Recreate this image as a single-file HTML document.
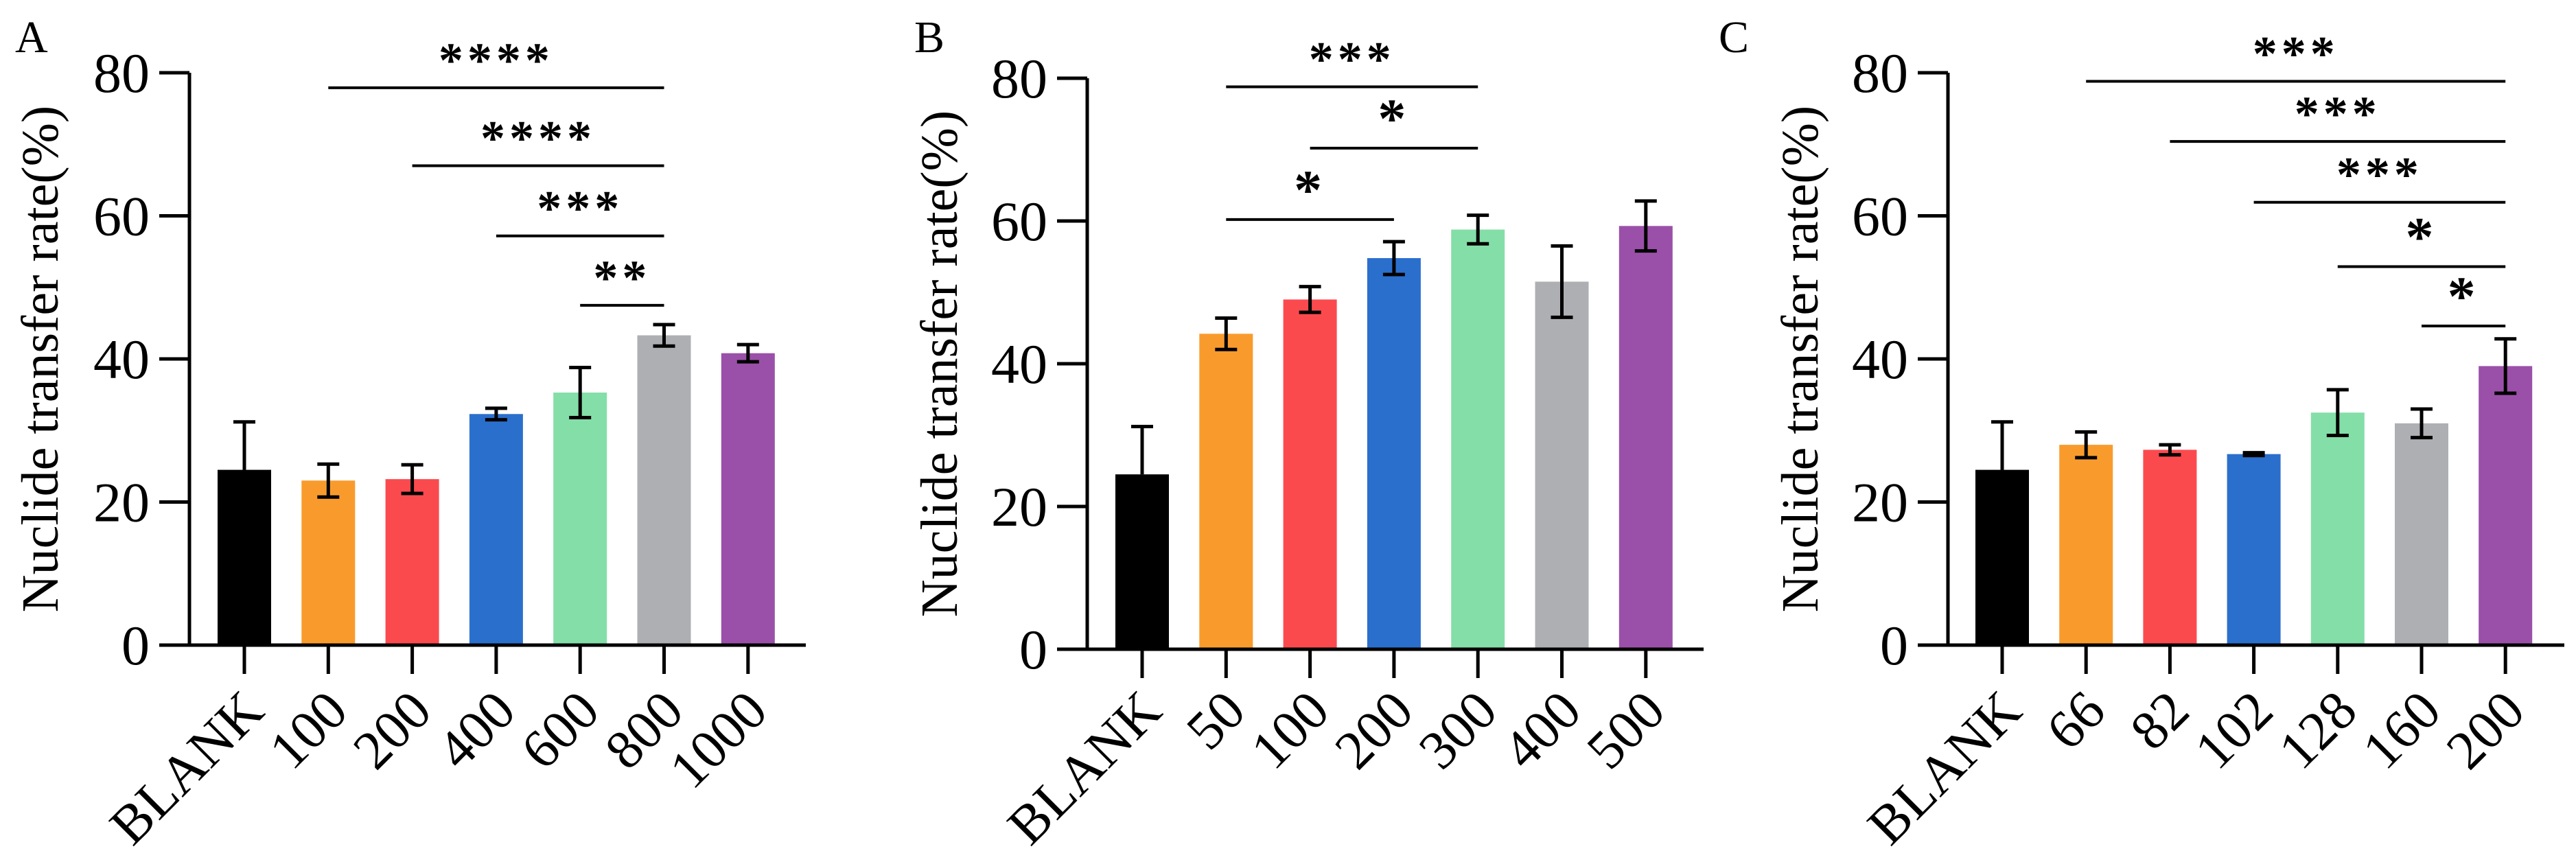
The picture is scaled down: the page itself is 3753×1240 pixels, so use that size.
<!DOCTYPE html>
<html><head><meta charset="utf-8"><style>
body{margin:0;background:#fff}
svg{display:block}
text{font-family:"Liberation Serif","Times New Roman","DejaVu Serif",serif;fill:#000}
</style></head><body>
<svg id="chart" width="3753" height="1240" viewBox="0 0 3753 1240" xmlns="http://www.w3.org/2000/svg"></svg>
<script>
const colors = ["#000000","#f99b2c","#fb4a4e","#2b6fcd","#84dea8","#adafb3","#9a50a8"];
const yTicks = [0,20,40,60,80];
const catsA = ["BLANK","100","200","400","600","800","1000"];
const valsA = [24.5,23.0,23.2,32.3,35.3,43.3,40.8];
const errsA = [6.7,2.3,2.0,0.8,3.5,1.5,1.2];
const sigA = [[1,5,77.9,"****"],[2,5,67.0,"****"],[3,5,57.2,"***"],[4,5,47.5,"**"]];
const catsB = ["BLANK","50","100","200","300","400","500"];
const valsB = [24.5,44.2,49.0,54.8,58.8,51.5,59.3];
const errsB = [6.7,2.2,1.8,2.3,2.0,5.0,3.5];
const sigB = [[1,4,78.8,"***"],[2,4,70.2,"*"],[1,3,60.2,"*"]];
const catsC = ["BLANK","66","82","102","128","160","200"];
const valsC = [24.5,28.0,27.3,26.7,32.5,31.0,39.0];
const errsC = [6.7,1.8,0.7,0.2,3.2,2.0,3.8];
const sigC = [[1,6,78.8,"***"],[2,6,70.4,"***"],[3,6,61.9,"***"],[4,6,52.9,"*"],[5,6,44.6,"*"]];

const SERIF='"Liberation Serif","Times New Roman","DejaVu Serif",serif';
const NS="http://www.w3.org/2000/svg";
const svg=document.getElementById('chart');
function mk(tag,attrs,parent,txt){const e=document.createElementNS(NS,tag);for(const k in attrs)e.setAttribute(k,attrs[k]);if(tag==='text'&&!attrs['font-family'])e.setAttribute('font-family',SERIF);if(txt!==undefined)e.textContent=txt;(parent||svg).appendChild(e);return e;}

function panel(cfg,cats,vals,errs,sigs){
  const g=mk('g',{});
  
  
  const y=v=>cfg.y0-(cfg.y0-cfg.y80)*v/80;
  const x=i=>cfg.x0+i*cfg.step;
  const lt=mk('text',{x:cfg.lx,y:76,'font-size':66},g,cfg.letter);
  
  
  cats.forEach((c,i)=>{
    const r=mk('rect',{x:x(i)-39,y:y(vals[i]),width:78,height:cfg.y0-y(vals[i]),fill:colors[i]},g);
    
    
    const eb=mk('g',{stroke:'#000','stroke-width':5,fill:'none'},g);
    
    
    const top=y(vals[i]+errs[i]), bot=i===0?y(vals[i]):y(vals[i]-errs[i]);
    mk('line',{x1:x(i),x2:x(i),y1:top,y2:bot},eb);
    mk('line',{x1:x(i)-16,x2:x(i)+16,y1:top,y2:top},eb);
    if(i!==0)mk('line',{x1:x(i)-16,x2:x(i)+16,y1:bot,y2:bot},eb);
    const tk=mk('line',{x1:x(i),x2:x(i),y1:cfg.y0,y2:cfg.y0+42,stroke:'#000','stroke-width':5},g);
    
    
    const ax=x(i)+32, ay=1040;
    const tl=mk('text',{x:ax,y:ay,'font-size':80,'text-anchor':'end',transform:`rotate(-45 ${ax} ${ay})`},g,c);
    
    
  });
  const axes=mk('g',{stroke:'#000','stroke-width':5},g);
  
  
  mk('line',{x1:cfg.ax,x2:cfg.ax,y1:y(80),y2:cfg.y0+2.5},axes);
  mk('line',{x1:cfg.ax-44,x2:cfg.xEnd,y1:cfg.y0,y2:cfg.y0},axes);
  yTicks.forEach(t=>{
    mk('line',{x1:cfg.ax-44,x2:cfg.ax,y1:y(t),y2:y(t)},axes);
    const yl=mk('text',{x:cfg.ax-58,y:y(t)+28,'font-size':82,'text-anchor':'end'},g,String(t));
    
    
  });
  const cy=(cfg.y0+y(80))/2;
  const yt=mk('text',{x:cfg.tx,y:cy,'font-size':76,'text-anchor':'middle',transform:`rotate(-90 ${cfg.tx} ${cy})`},g,'Nuclide transfer rate(%)');
  
  
  sigs.forEach(s=>{
    const sg=mk('g',{},g);
    
    
    const yy=y(s[2]);
    mk('line',{x1:x(s[0]),x2:x(s[1]),y1:yy,y2:yy,stroke:'#000','stroke-width':4},sg);
    mk('text',{x:(x(s[0])+x(s[1]))/2,y:yy-16,'font-size':s[3].length===1?82:72,'font-weight':'bold','text-anchor':'middle','font-family':'"Liberation Sans",sans-serif'},sg,s[3]).style.letterSpacing='6px';
  });
}
panel({letter:'A',lx:22,ax:276,x0:356,step:122.3,y0:940,y80:106,xEnd:1174,tx:84},catsA,valsA,errsA,sigA);
panel({letter:'B',lx:1332,ax:1584,x0:1664,step:122.3,y0:946,y80:114,xEnd:2482,tx:1394},catsB,valsB,errsB,sigB);
panel({letter:'C',lx:2504,ax:2838,x0:2917,step:122.2,y0:940,y80:106,xEnd:3736,tx:2648},catsC,valsC,errsC,sigC);
</script>
</body></html>
